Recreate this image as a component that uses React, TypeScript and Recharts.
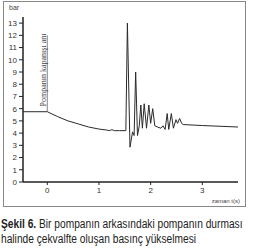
import React from 'react';
import { LineChart, Line, XAxis, YAxis, ReferenceLine } from 'recharts';

// zaman t(s)
const times = [
  -0.47, 0, 0.2, 0.4, 0.6, 0.8, 1.0, 1.15, 1.2, 1.25, 1.3, 1.4, 1.52, 1.55, 1.6, 1.65, 1.68,
  1.71, 1.745, 1.78, 1.81, 1.84, 1.875, 1.92, 1.965, 2.0, 2.04, 2.08, 2.13, 2.2, 2.24, 2.28,
  2.32, 2.35, 2.4, 2.44, 2.49, 2.52, 2.56, 2.6, 2.63, 3.0, 3.69,
];
// basınç (bar)
const pressure = [
  5.75, 5.75, 5.35, 5.0, 4.75, 4.5, 4.33, 4.25, 4.2, 4.28, 4.2, 4.2, 4.2, 13.0, 2.85, 4.1, 3.8,
  9.0, 3.8, 4.6, 6.3, 4.4, 6.4, 4.4, 6.3, 4.8, 6.0, 4.6, 4.5, 4.4, 4.6, 4.3,
  5.6, 4.3, 5.6, 4.4, 5.1, 4.8, 5.2, 4.8, 4.7, 4.62, 4.5,
];
const xTicks = [0, 1, 2, 3];
const yTicks = [0, 1, 2, 3, 4, 5, 6, 7, 8, 9, 10, 11, 12, 13];

const data = times.map((t, i) => ({ t, p: pressure[i] }));

const axisFont = "'Liberation Sans', Arial, sans-serif";
const tickStyle = { fontSize: 8, fill: '#333', fontFamily: axisFont };
const captionLine: React.CSSProperties = {
  whiteSpace: 'nowrap',
  transform: 'scaleX(0.85)',
  transformOrigin: 'left center',
  height: 15,
};

export default function App() {
  return (
    <div style={{ position: 'absolute', left: 0, top: 0, width: 262, height: 250, background: '#fff' }}>
      <div
        style={{
          position: 'absolute', left: 3, top: 1, width: 243, height: 206,
          border: '1px solid #888', boxSizing: 'border-box',
        }}
      />
      <LineChart
        width={262}
        height={250}
        data={data}
        margin={{ top: 17, right: 24, bottom: 48, left: 3 }}
        style={{ position: 'absolute', left: 0, top: 0 }}
      >
        <XAxis
          dataKey="t"
          type="number"
          domain={[-0.47, 3.69]}
          ticks={xTicks}
          tick={tickStyle}
          tickSize={3}
          axisLine={{ stroke: '#222', strokeWidth: 1.5 }}
          tickLine={{ stroke: '#222' }}
          height={20}
        />
        <YAxis
          type="number"
          domain={[0, 13.5]}
          ticks={yTicks}
          tick={tickStyle}
          tickSize={4}
          axisLine={{ stroke: '#222', strokeWidth: 1.5 }}
          tickLine={{ stroke: '#222' }}
          width={20}
          interval={0}
        />
        <ReferenceLine
          segment={[{ x: 0, y: 12 }, { x: 0, y: 5.75 }]}
          stroke="#888"
          strokeWidth={1}
        />
        <Line
          type="linear"
          dataKey="p"
          stroke="#2a2a2a"
          strokeWidth={1}
          dot={false}
          isAnimationActive={false}
        />
      </LineChart>
      <div style={{ position: 'absolute', left: 9, top: 4, fontSize: 7, color: '#444', fontFamily: axisFont }}>bar</div>
      <div
        style={{
          position: 'absolute', left: 43, top: 70, fontSize: 8, color: '#444',
          fontFamily: "'Liberation Serif', serif", whiteSpace: 'nowrap',
          transform: 'translate(-50%, -50%) rotate(-90deg)',
        }}
      >
        Pompanın kapanışı anı
      </div>
      <div
        style={{
          position: 'absolute', right: 22, top: 198, fontSize: 6, color: '#444',
          fontFamily: axisFont, whiteSpace: 'nowrap',
        }}
      >
        zaman t(s)
      </div>
      <div
        style={{
          position: 'absolute', left: 1, top: 217, fontSize: 12, lineHeight: '15px',
          color: '#222', fontFamily: "'Liberation Sans', Arial, sans-serif",
        }}
      >
        <div style={captionLine}>
          <b>Şekil 6.</b> Bir pompanın arkasındaki pompanın durması
        </div>
        <div style={captionLine}>halinde çekvalfte oluşan basınç yükselmesi</div>
      </div>
    </div>
  );
}
